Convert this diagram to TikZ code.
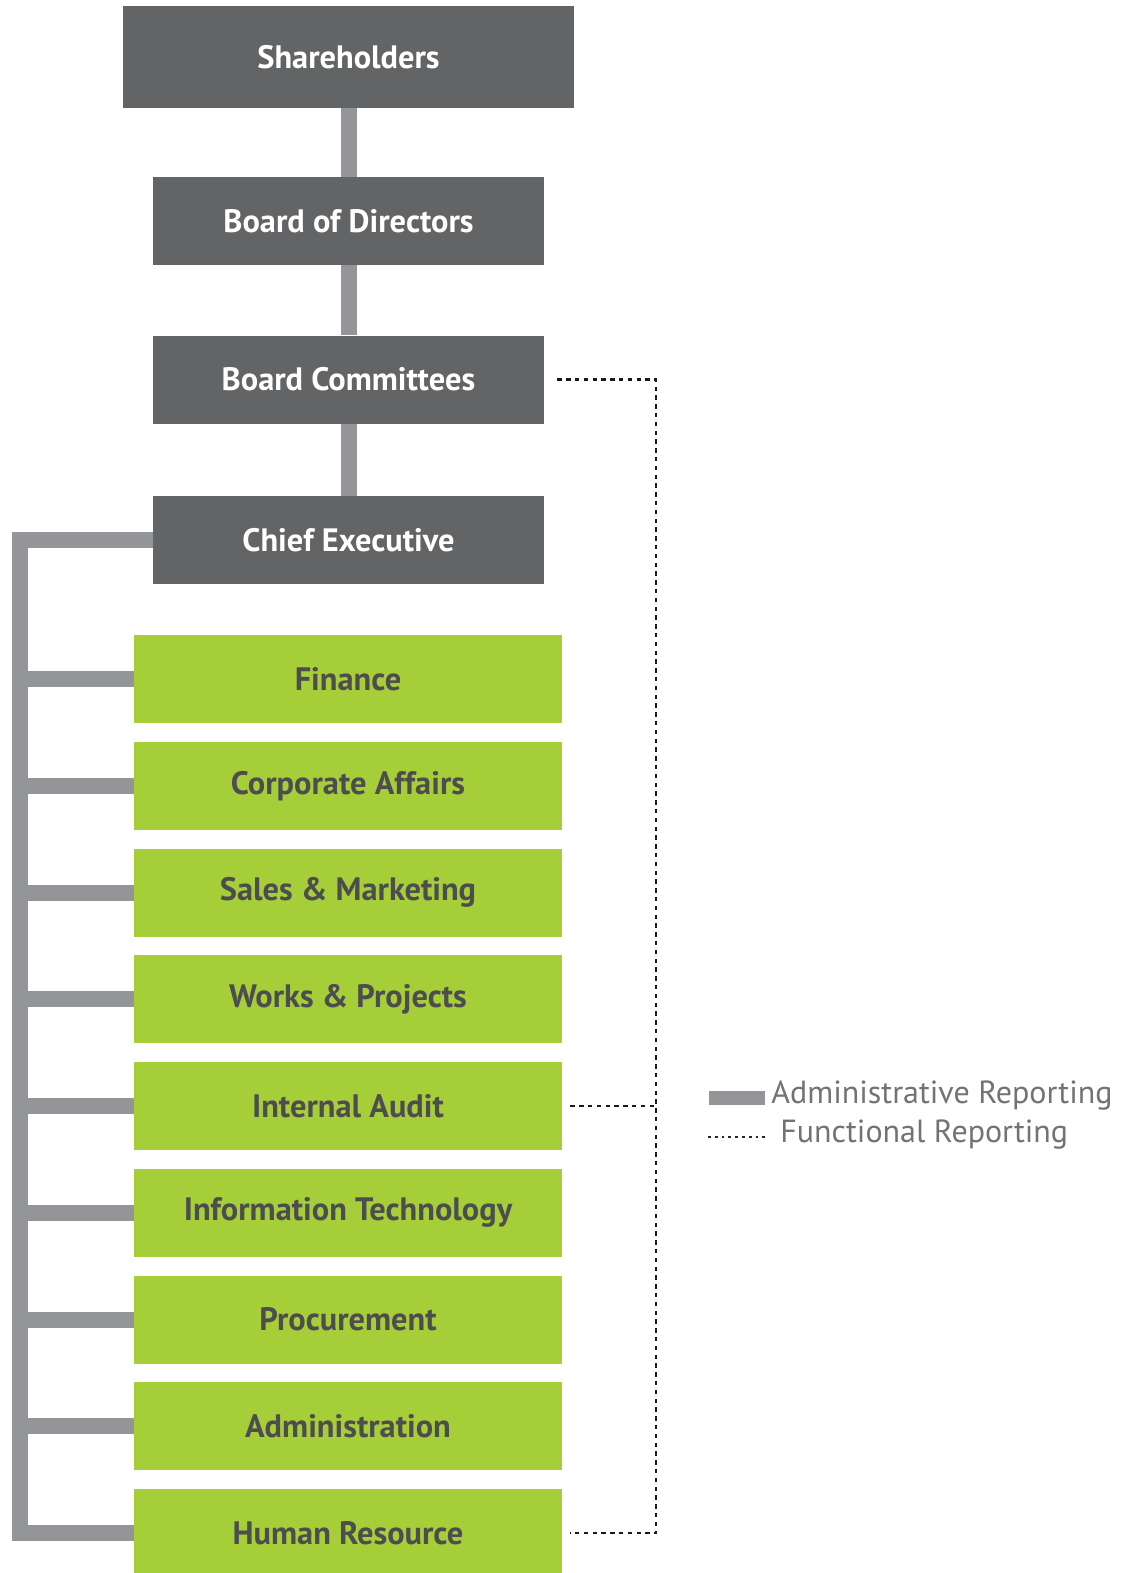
\documentclass[tikz,border=0pt]{standalone}
\usepackage{fontspec}
\setmainfont{PT Sans}
\definecolor{execgray}{HTML}{636466}
\definecolor{busgray}{HTML}{939598}
\definecolor{deptgreen}{HTML}{A6CE39}
\definecolor{depttext}{HTML}{4D4D4F}
\definecolor{legtext}{HTML}{727376}
\begin{document}
\begin{tikzpicture}[x=0.5pt,y=-0.5pt,
  box/.style={inner sep=0pt, font=\bfseries\fontsize{16.2}{19}\selectfont},
  execbox/.style={box, fill=execgray, text=white, minimum width=195.5pt, minimum height=44pt},
  deptbox/.style={box, fill=deptgreen, text=depttext, minimum width=214pt, minimum height=44pt},
  admin/.style={draw=busgray, line width=8pt, line join=miter},
  func/.style={draw=black!90, line width=1.2pt, dash pattern=on 2.2pt off 2.2pt},
  legdot/.style={draw=black!85, line width=0.8pt, dash pattern=on 1.4pt off 2pt},
  legend/.style={inner sep=0pt, text=legtext, font=\fontsize{16}{19}\selectfont}]
\useasboundingbox (0,0) rectangle (1126,1573);
\fill[white] (0,0) rectangle (1126,1573);

% governance chain
\node[execbox, minimum width=225.5pt, minimum height=51pt] (SH) at (348.5,57) {Shareholders};
\node[execbox] (BD) at (348.5,221) {Board of Directors};
\node[execbox] (BC) at (348.5,379.5) {Board Committees};
\node[execbox] (CE) at (348.5,540) {Chief Executive};

\draw[admin] (SH.south) -- (BD.north);
\draw[admin] (BD.south) -- (BC.north);
\draw[admin] (BC.south) -- (CE.north);

% departments
\foreach \name/\label [count=\i from 0] in {d1/Finance, d2/Corporate Affairs, d3/Sales \& Marketing, d4/Works \& Projects, d5/Internal Audit, d6/Information Technology, d7/Procurement, d8/Administration, d9/Human Resource}
  \node[deptbox] (\name) at (348,679+106.75*\i) {\label};

% administrative reporting bus
\coordinate (busTop) at (20,540);
\coordinate (busBot) at (20,1533);
\draw[admin] (CE.west) -- (busTop) -- (busBot) -- (d9.west);
\foreach \name in {d1,d2,d3,d4,d5,d6,d7,d8}
  \draw[admin] (busTop |- \name.west) -- (\name.west);

% functional reporting line
\coordinate (fline) at (656,0);
\draw[func] ([xshift=6.5pt]BC.east) -- (BC.east -| fline) -- (d9.east -| fline) -- ([xshift=4pt]d9.east);
\draw[func] ([xshift=4pt]d5.east) -- (d5.east -| fline);

% legend
\node[fill=busgray, inner sep=0pt, minimum width=28pt, minimum height=7pt] (legA) at (737,1098) {};
\node[legend, anchor=base west] (legAtext) at (771,1103) {Administrative Reporting};
\coordinate (legB1) at (708,1137);
\coordinate (legB2) at (767,1137);
\draw[legdot] (legB1) -- (legB2);
\node[legend, anchor=base west] (legBtext) at (780,1142) {Functional Reporting};
\end{tikzpicture}
\end{document}
